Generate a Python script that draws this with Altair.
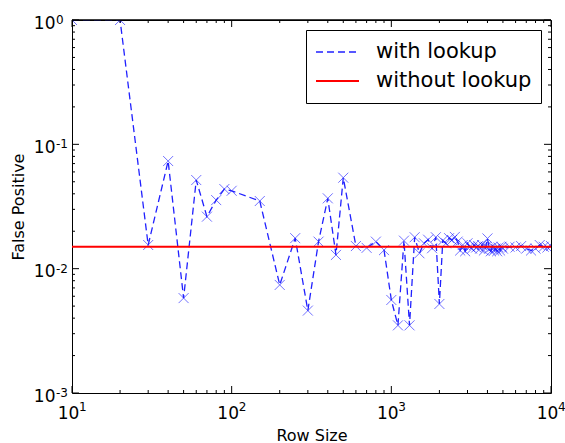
import altair as alt
import pandas as pd

# ---- data ----
row_size = [10, 20, 30, 40, 50, 60, 70, 80, 90, 100,
            150, 200, 250, 300, 350, 400, 450, 500,
            600, 700, 800, 900, 1000,
            1100, 1200, 1300, 1400, 1500, 1600, 1700, 1800, 1900, 2000,
            2100, 2200, 2300, 2400, 2500, 2600, 2700, 2800, 2900, 3000,
            3100, 3200, 3300, 3400, 3500, 3600, 3700, 3800, 3900, 4000,
            4100, 4200, 4300, 4400, 4500, 4600, 4700, 4800, 4900, 5000,
            5500, 6000, 6500, 7000, 7500, 8000, 8500, 9000, 9500, 10000]
fp_with_lookup = [1.0, 1.0, 0.0155, 0.0734, 0.0058, 0.0516, 0.0262, 0.0356, 0.0437, 0.0423,
                  0.0350, 0.0074, 0.0176, 0.0046, 0.0165, 0.0368, 0.0129, 0.0539,
                  0.0152, 0.0147, 0.0165, 0.0141, 0.0056,
                  0.0035, 0.0168, 0.0035, 0.0179, 0.0133, 0.0160, 0.0171, 0.0146, 0.0179, 0.0052,
                  0.0168, 0.0160, 0.0176, 0.0170, 0.0180, 0.0165, 0.0140, 0.0155, 0.0138, 0.0160,
                  0.0150, 0.0145, 0.0155, 0.0148, 0.0152, 0.0145, 0.0155, 0.0140, 0.0150, 0.0175,
                  0.0145, 0.0138, 0.0150, 0.0140, 0.0145, 0.0138, 0.0148, 0.0140, 0.0150, 0.0145,
                  0.0150, 0.0148, 0.0152, 0.0145, 0.0140, 0.0145, 0.0155, 0.0150, 0.0148, 0.0152]
fp_without_lookup = 0.015
series_names = ["with lookup", "without lookup"]

x_major = [10, 100, 1000, 10000]
x_exponents = ["1", "2", "3", "4"]
x_minor = [20, 30, 40, 50, 60, 70, 80, 90,
           200, 300, 400, 500, 600, 700, 800, 900,
           2000, 3000, 4000, 5000, 6000, 7000, 8000, 9000]
y_major = [0.001, 0.01, 0.1, 1.0]
y_exponents = ["-3", "-2", "-1", "0"]
y_minor = [0.002, 0.003, 0.004, 0.005, 0.006, 0.007, 0.008, 0.009,
           0.02, 0.03, 0.04, 0.05, 0.06, 0.07, 0.08, 0.09,
           0.2, 0.3, 0.4, 0.5, 0.6, 0.7, 0.8, 0.9]

W, H = 479, 373
FONT = "DejaVu Sans"

df_pts = pd.DataFrame({"row": row_size, "fp": fp_with_lookup})
df_line = pd.DataFrame({
    "row": row_size + [x_major[0], x_major[-1]],
    "fp": fp_with_lookup + [fp_without_lookup, fp_without_lookup],
    "series": [series_names[0]] * len(row_size) + [series_names[1]] * 2,
})

xs = alt.Scale(type="log", domain=[10, 10000], nice=False)
ys = alt.Scale(type="log", domain=[0.001, 1], nice=False)

x_axis = alt.Axis(values=x_major, ticks=False, domain=False, grid=False,
                  labelExpr="'10'", labelFlush=False, labelOverlap=False,
                  labelPadding=12, labelOffset=-4, titlePadding=6)
y_axis = alt.Axis(values=y_major, ticks=False, domain=False, grid=False,
                  labelExpr="'10'", labelFlush=False, labelOverlap=False,
                  labelPadding=17, labelOffset=3, titlePadding=7)


def X(field):
    return alt.X(f"{field}:Q", scale=xs, axis=x_axis, title="Row Size")


def Y(field):
    return alt.Y(f"{field}:Q", scale=ys, axis=y_axis, title="False Positive")


pts = alt.Chart(df_pts).mark_point(
    shape="M-1,-1L1,1M-1,1L1,-1", filled=False, size=100, strokeWidth=1,
    color="#0000ff", opacity=0.55, clip=True
).encode(x=X("row"), y=Y("fp"))

legend = alt.Legend(title=None, orient="top-right", offset=10,
                    strokeColor="black", fillColor="white", padding=9,
                    cornerRadius=0, labelFont=FONT, labelFontSize=21,
                    labelColor="black", symbolType="stroke", symbolSize=1849,
                    symbolStrokeWidth=1.5, labelOffset=16, clipHeight=26,
                    rowPadding=3, labelLimit=400)

lines = alt.Chart(df_line).mark_line(clip=True).encode(
    x=X("row"), y=Y("fp"),
    color=alt.Color("series:N", scale=alt.Scale(domain=series_names, range=["#2020ff", "#ff0000"]),
                    legend=legend),
    strokeDash=alt.StrokeDash("series:N", scale=alt.Scale(domain=series_names, range=[[7, 4], [1, 0]]),
                              legend=legend),
    strokeWidth=alt.StrokeWidth("series:N", scale=alt.Scale(domain=series_names, range=[1.3, 1.8]),
                                legend=None),
)


def xticks(vals, length):
    d = pd.DataFrame({"row": vals})
    bot = alt.Chart(d).mark_rule(color="black", strokeWidth=1).encode(
        x=X("row"), y=alt.value(H - length), y2=alt.value(H))
    top = alt.Chart(d).mark_rule(color="black", strokeWidth=1).encode(
        x=X("row"), y=alt.value(0), y2=alt.value(length))
    return [bot, top]


def yticks(vals, length):
    d = pd.DataFrame({"fp": vals})
    left = alt.Chart(d).mark_rule(color="black", strokeWidth=1).encode(
        y=Y("fp"), x=alt.value(0), x2=alt.value(length))
    right = alt.Chart(d).mark_rule(color="black", strokeWidth=1).encode(
        y=Y("fp"), x=alt.value(W - length), x2=alt.value(W))
    return [left, right]


tick_layers = xticks(x_major, 7) + xticks(x_minor, 3) + yticks(y_major, 7) + yticks(y_minor, 3)

# exponents of the tick labels (10^n)
x_exp = alt.Chart(pd.DataFrame({"row": x_major, "e": x_exponents})).mark_text(
    align="left", baseline="alphabetic", font=FONT, fontSize=12, color="black", dx=7
).encode(x=X("row"), y=alt.value(H + 18), text="e:N")
y_exp = alt.Chart(pd.DataFrame({"fp": y_major, "e": y_exponents})).mark_text(
    align="left", baseline="alphabetic", font=FONT, fontSize=12, color="black", dy=4
).encode(y=Y("fp"), x=alt.value(-16), text="e:N")

# top spine drawn above the data line (as in the original)
top_spine = alt.Chart(pd.DataFrame({"row": [x_major[0]]})).mark_rule(color="black", strokeWidth=1.4).encode(
    x=alt.value(0), x2=alt.value(W), y=alt.value(0))

chart = alt.layer(pts, lines, *tick_layers, x_exp, y_exp, top_spine).properties(
    width=W, height=H,
    autosize=alt.AutoSizeParams(type="none"),
    padding={"left": 72, "top": 20, "right": 14, "bottom": 50},
    background="white",
).configure_view(
    stroke="black", strokeWidth=1
).configure_axis(
    labelFont=FONT, labelFontSize=17, labelColor="black",
    titleFont=FONT, titleFontSize=16, titleFontWeight="normal", titleColor="black",
)

chart.save("out.html", embed_options={"renderer": "svg", "actions": False})
